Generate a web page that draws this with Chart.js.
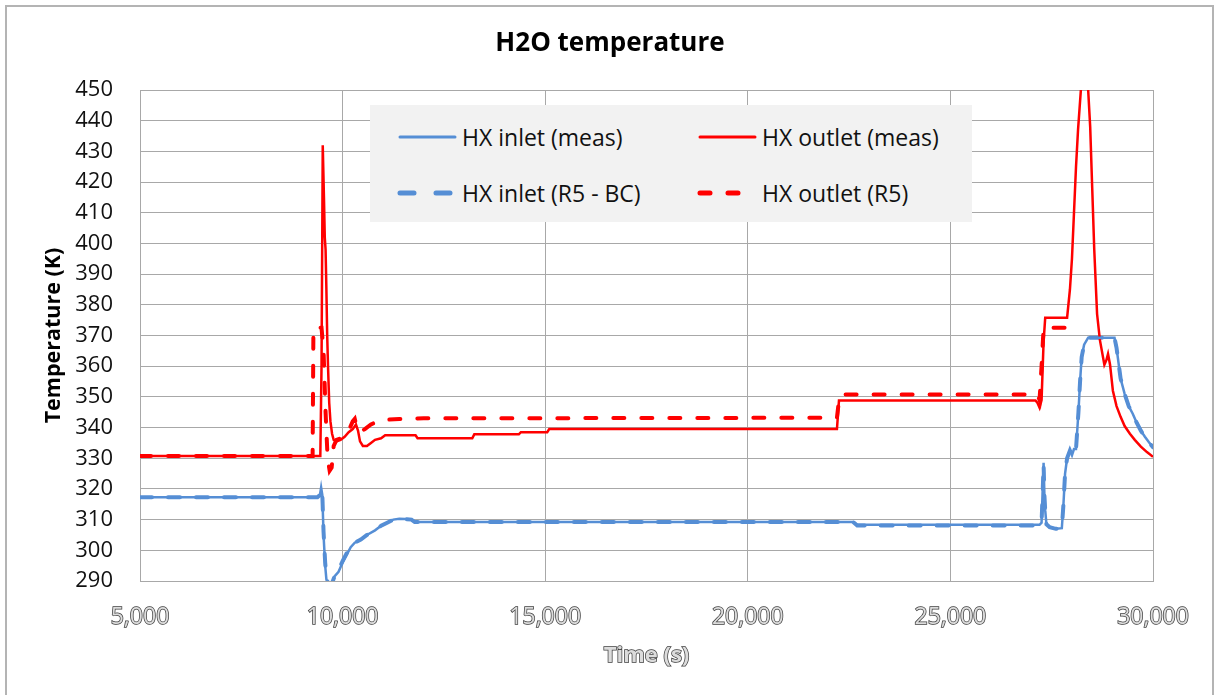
<!DOCTYPE html>
<html>
<head>
<meta charset="utf-8">
<title>H2O temperature</title>
<script src="https://cdn.jsdelivr.net/npm/chart.js@4.4.1/dist/chart.umd.min.js"></script>
<style>
  html, body { margin: 0; padding: 0; background: #fff; }
  #wrap { position: relative; width: 1214px; height: 695px; overflow: hidden; }
  #frame { position: absolute; left: 5px; top: 5px; width: 1205px; height: 700px;
           border: 2px solid #b4b4b4; pointer-events: none; }
  #legend { position: absolute; left: 370px; top: 105px; width: 602px; height: 117px;
            background: #f2f2f2; font-family: "Open Sans", sans-serif; font-size: 23px; color: #111; }
  .item { position: absolute; height: 30px; line-height: 30px; white-space: nowrap; }
  .item svg { position: absolute; left: 0; top: 9px; }
  .item span { position: absolute; left: 65px; top: 0; }
</style>
</head>
<body>
<div id="wrap">
  <canvas id="grafico" width="1214" height="695"></canvas>
  <div id="legend"></div>
  <div id="frame"></div>
</div>
<script>
// Datos (tiempo en s, temperatura en K)
const inletTime = [5000, 9380, 9440, 9470, 9500, 9530, 9570, 9600, 9650, 9720, 9760, 9800, 9900, 10000, 10100, 10200, 10300, 10450, 10600, 10800, 10950, 11100, 11250, 11400, 11550, 11700, 11780, 22600, 22700, 27200, 27250, 27280, 27300, 27320, 27340, 27370, 27450, 27600, 27750, 27790, 27830, 27880, 27950, 28000, 28050, 28100, 28160, 28200, 28240, 28300, 28400, 29050, 29100, 29150, 29200, 29300, 29400, 29500, 29600, 29700, 29800, 29900, 30000];
const inletMeas = [317.3, 317.3, 318, 320.5, 318, 305, 295, 290.5, 289, 289, 290, 291.5, 293, 296, 298.5, 301, 302.5, 303.5, 305, 306.5, 308, 309, 310, 310.3, 310.2, 310, 309.2, 309.2, 308.3, 308.3, 309, 321, 328.5, 318, 313, 308.5, 307.5, 307, 307.2, 315, 325, 330, 332.5, 331, 333, 333, 345, 355, 363, 367, 369.3, 369.3, 366, 361, 356, 351, 347, 344.5, 341.5, 339, 337, 335.2, 333.6];

const bcTime = [5000, 9380, 9440, 9470, 9500, 9530, 9570, 9600, 9650, 9720, 9760, 9800, 9900, 10000, 10100, 10200, 10300, 10450, 10600, 10800, 10950, 11100, 11250, 11400, 11550, 11700, 11780, 22600, 22700, 27200, 27250, 27280, 27300, 27320, 27340, 27370, 27450, 27600, 27750, 27790, 27830, 27880, 27950, 28000, 28050, 28100, 28160, 28200, 28240, 28300, 28400, 29050, 29100, 29150, 29200, 29300, 29400, 29500, 29600, 29700, 29800, 29900, 30000];
const inletBC = [317.3, 317.3, 318, 320, 318, 306, 296, 291, 289, 289, 290, 291.5, 293.5, 296.5, 299, 301, 302.5, 303.5, 305, 306.5, 308, 309, 310, 310.3, 310.2, 310, 309.2, 309.2, 308.1, 308.1, 309, 320, 328, 318, 313, 308.5, 307.5, 307, 307.2, 315, 325, 330, 332.5, 331, 333, 333, 345, 355, 363, 367, 369.3, 369.3, 366, 361, 356, 351, 347, 344.5, 341.5, 339, 337, 335.2, 333.6];

const outletTime = [5000, 9450, 9480, 9510, 9540, 9560, 9580, 9600, 9620, 9640, 9670, 9700, 9740, 9780, 9850, 9950, 10050, 10150, 10250, 10330, 10380, 10430, 10500, 10600, 10700, 10800, 10950, 11050, 11800, 11850, 13200, 13250, 14350, 14400, 15050, 15100, 22200, 22250, 27100, 27150, 27200, 27250, 27300, 27340, 27880, 27950, 28000, 28050, 28100, 28150, 28220, 28270, 28350, 28400, 28450, 28500, 28550, 28620, 28690, 28800, 28850, 28890, 28940, 29010, 29100, 29200, 29300, 29430, 29550, 29700, 29850, 30000];
const outletMeas = [330.7, 330.7, 360, 432, 415, 402, 398, 385, 370, 360, 348, 342, 338, 336, 335.5, 336, 337, 338.5, 339.5, 341, 339, 335.5, 334, 334, 335, 336, 336.5, 337.5, 337.5, 336.5, 336.5, 337.8, 337.8, 338.5, 338.5, 339.5, 339.5, 348.8, 348.8, 348, 346.5, 349, 368, 375.8, 375.8, 385, 395, 410, 425, 437, 450, 455, 455, 450, 438, 418, 398, 377, 368.5, 360.5, 362, 364, 360.5, 352, 347, 343.5, 340.5, 338, 336, 333.8, 332, 330.5];

const r5Time = [5000, 9260, 9280, 9450, 9480, 9530, 9580, 9630, 9680, 9730, 9780, 9850, 9950, 10050, 10150, 10250, 10300, 10350, 10430, 10550, 10700, 10850, 11000, 11400, 12000, 22200, 22250, 22300, 27150, 27200, 27250, 27300, 28000];
const outletR5 = [330.7, 330.7, 372.5, 372.5, 372.5, 365, 345, 330, 326, 327, 334, 336, 336.5, 338, 339, 342, 342.8, 340, 338.5, 339.5, 341, 342, 342.5, 342.8, 343, 343.2, 349, 350.8, 350.8, 349, 360, 372.5, 372.5];

const xTicks = [5000, 10000, 15000, 20000, 25000, 30000];

const azul = '#558ED5';
const rojo = '#FF0000';

function puntos(ts, vs) {
    return ts.map((t, i) => ({ x: t, y: vs[i] }));
}

// Título del eje X con contorno, como en el original
const tituloX = {
    id: 'tituloX',
    afterDraw(chart) {
        const s = chart.scales.x;
        const c = chart.ctx;
        c.save();
        c.font = 'bold 22px "Open Sans"';
        c.textAlign = 'center';
        c.textBaseline = 'middle';
        c.lineWidth = 1.5;
        c.strokeStyle = '#404040';
        c.fillStyle = '#dcdcdc';
        const x = (s.left + s.right) / 2;
        c.strokeText('Time (s)', x, 656);
        c.fillText('Time (s)', x, 656);
        c.restore();
    }
};

const config = {
    type: 'line',
    data: {
        datasets: [{
            label: 'HX inlet (meas)',
            data: puntos(inletTime, inletMeas),
            borderColor: azul,
            borderWidth: 2.5,
            borderDash: []
        }, {
            label: 'HX outlet (meas)',
            data: puntos(outletTime, outletMeas),
            borderColor: rojo,
            borderWidth: 2.5,
            borderDash: []
        }, {
            label: 'HX inlet (R5 - BC)',
            data: puntos(bcTime, inletBC),
            borderColor: azul,
            borderWidth: 4,
            borderDash: [12, 16],
            borderCapStyle: 'round'
        }, {
            label: 'HX outlet (R5)',
            data: puntos(r5Time, outletR5),
            borderColor: rojo,
            borderWidth: 4,
            borderDash: [11, 17],
            borderCapStyle: 'round'
        }]
    },
    options: {
        responsive: false,
        animation: false,
        devicePixelRatio: 1,
        layout: { padding: { left: 67, right: 61, top: 0, bottom: 0 } },
        elements: { point: { radius: 0 }, line: { tension: 0, fill: false } },
        plugins: {
            legend: { display: false },
            tooltip: { enabled: false },
            title: {
                display: true,
                text: 'H2O temperature',
                color: '#000',
                font: { family: 'Open Sans', size: 26, weight: 'bold' },
                padding: { top: 28, bottom: 30.8 }
            }
        },
        scales: {
            x: {
                type: 'linear',
                min: 5000,
                max: 30000,
                afterFit(scale) { scale.height = 114; },
                afterBuildTicks(scale) { scale.ticks = xTicks.map(v => ({ value: v })); },
                grid: { color: '#a8a8a8', lineWidth: 1, drawTicks: false },
                border: { color: '#a8a8a8' },
                ticks: {
                    padding: 23,
                    color: '#dcdcdc',
                    textStrokeColor: '#404040',
                    textStrokeWidth: 1.5,
                    font: { family: 'Open Sans', size: 23 },
                    maxRotation: 0,
                    callback: v => v.toLocaleString('en-US')
                },
                title: { display: false, text: 'Time (s)' }
            },
            y: {
                min: 290,
                max: 450,
                afterFit(scale) { scale.width = 73; },
                grid: { color: '#a8a8a8', lineWidth: 1, drawTicks: false },
                border: { color: '#a8a8a8' },
                ticks: {
                    stepSize: 10,
                    padding: 27,
                    color: '#111',
                    font: { family: 'Open Sans', size: 22 }
                },
                title: {
                    display: true,
                    text: 'Temperature (K)',
                    color: '#000',
                    font: { family: 'Open Sans', size: 21.5, weight: 'bold' },
                    padding: { top: -26, bottom: 0 }
                }
            }
        }
    },
    plugins: [tituloX]
};

const ctx = document.getElementById('grafico').getContext('2d');
const grafico = new Chart(ctx, config);

// Leyenda dentro del área del gráfico (2 x 2)
const leyenda = document.getElementById('legend');
const posiciones = [[27, 17], [327, 17], [27, 73], [327, 73]];
config.data.datasets.forEach((ds, k) => {
    const item = document.createElement('div');
    item.className = 'item';
    item.style.left = posiciones[k][0] + 'px';
    item.style.top = posiciones[k][1] + 'px';
    const dash = ds.borderDash.length ? (k === 2 ? '14 22' : '10 18') : 'none';
    const ancho = ds.borderDash.length ? 5 : 3;
    item.innerHTML = '<svg width="62" height="12"><line x1="3" y1="6" x2="58" y2="6" stroke="' + ds.borderColor +
        '" stroke-width="' + ancho + '" stroke-linecap="round" stroke-dasharray="' + dash + '"/></svg>' +
        '<span>' + ds.label + '</span>';
    leyenda.appendChild(item);
});
</script>
</body>
</html>
